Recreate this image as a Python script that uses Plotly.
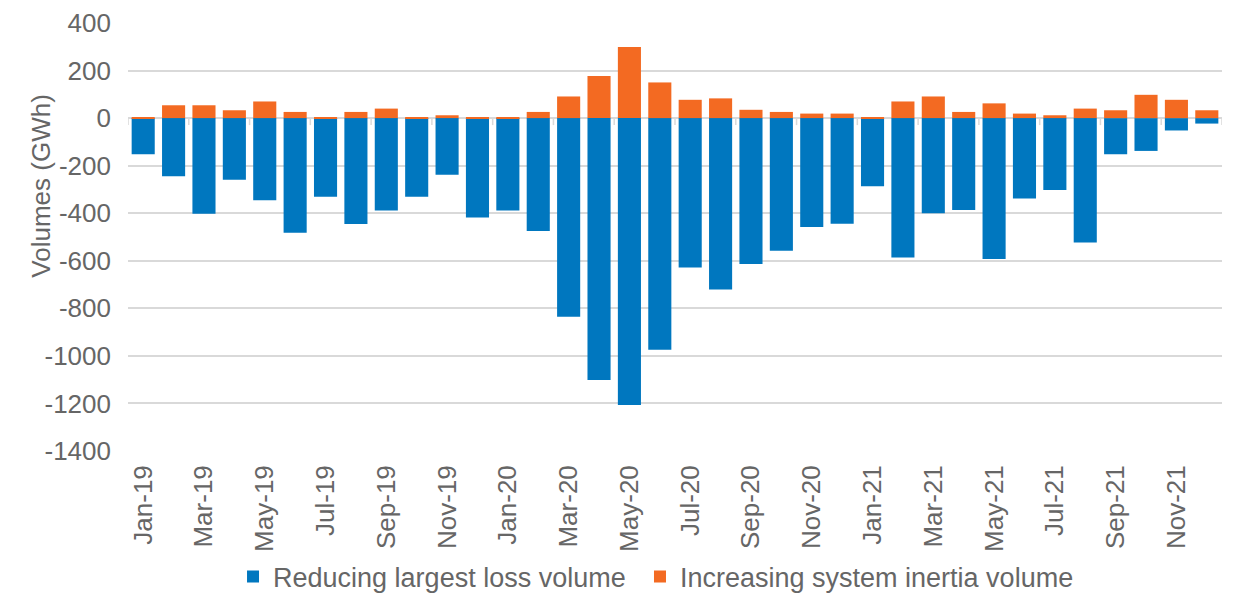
import plotly.graph_objects as go

# Monthly categories Jan-19 .. Dec-21
months = [f"{m}-{y}" for y in ("19", "20", "21")
          for m in ("Jan", "Feb", "Mar", "Apr", "May", "Jun",
                    "Jul", "Aug", "Sep", "Oct", "Nov", "Dec")]

# Volumes in GWh
reducing_largest_loss = [
    -152, -245, -402, -259, -345, -482, -331, -445, -389, -331, -238, -418,
    -389, -475, -835, -1101, -1207, -974, -628, -721, -614, -558, -458, -444,
    -287, -586, -400, -386, -593, -338, -302, -523, -152, -138, -52, -23,
]
increasing_system_inertia = [
    2, 54, 54, 33, 70, 26, 4, 26, 40, 4, 12, 4,
    4, 26, 91, 177, 299, 150, 77, 83, 35, 26, 19, 19,
    4, 70, 91, 26, 62, 19, 12, 40, 33, 98, 77, 33,
]

y_ticks = list(range(-1400, 401, 200))
y_tick_text = [str(v) for v in y_ticks]
x_tick_labels = months[::2]

BLUE = "#0077BF"
ORANGE = "#F36A22"
GRID = "#D9D9D9"
TEXT = "#666666"
FONT = "Liberation Sans, Arial, sans-serif"
FS = 26

fig = go.Figure()
fig.add_trace(go.Bar(
    x=months, y=reducing_largest_loss, name="Reducing largest loss volume",
    marker=dict(color=BLUE, line=dict(width=0)), legend="legend",
))
fig.add_trace(go.Bar(
    x=months, y=increasing_system_inertia, name="Increasing system inertia volume",
    marker=dict(color=ORANGE, line=dict(width=0)), legend="legend2",
))

# small tick marks hanging below the zero line, every second category boundary
zero_ticks = [
    dict(type="line", xref="x", yref="y", ysizemode="pixel", yanchor=0,
         x0=i - 0.5, x1=i - 0.5, y0=0, y1=-7,
         line=dict(color=GRID, width=1.5), layer="above")
    for i in range(0, len(months) + 1, 2)
]

legend_style = dict(
    orientation="h", xanchor="left",
    yref="container", y=0.027, yanchor="middle",
    font=dict(size=27, color=TEXT), itemwidth=30,
    bgcolor="rgba(0,0,0,0)",
)

fig.update_layout(
    width=1233, height=593,
    margin=dict(l=128, r=11, t=23, b=142, autoexpand=False),
    paper_bgcolor="white", plot_bgcolor="white",
    barmode="relative", bargap=0.24,
    font=dict(family=FONT, size=FS, color=TEXT),
    showlegend=True,
    legend=dict(x=0.096, **legend_style),
    legend2=dict(x=0.468, **legend_style),
    xaxis=dict(
        type="category", categoryorder="array", categoryarray=months,
        range=[-0.5, len(months) - 0.5],
        tickmode="array", tickvals=x_tick_labels, ticktext=x_tick_labels,
        tickangle=-90, showgrid=False, showline=False, ticks="",
        ticklabelstandoff=8, tickfont=dict(size=FS, color=TEXT),
        automargin=False,
    ),
    yaxis=dict(
        range=[y_ticks[0], y_ticks[-1]], tickmode="array",
        tickvals=y_ticks, ticktext=y_tick_text,
        showgrid=True, gridcolor=GRID, gridwidth=1.5,
        zeroline=True, zerolinecolor=GRID, zerolinewidth=1.5,
        showline=False, ticks="", ticklabelstandoff=16,
        tickfont=dict(size=FS, color=TEXT), automargin=False,
    ),
    shapes=zero_ticks,
    annotations=[dict(
        text="Volumes (GWh)", textangle=-90, xref="paper", yref="paper",
        x=-0.0795, y=0.62, xanchor="center", yanchor="middle",
        showarrow=False, font=dict(size=FS, color=TEXT),
    )],
)

fig.write_html("out.html")
